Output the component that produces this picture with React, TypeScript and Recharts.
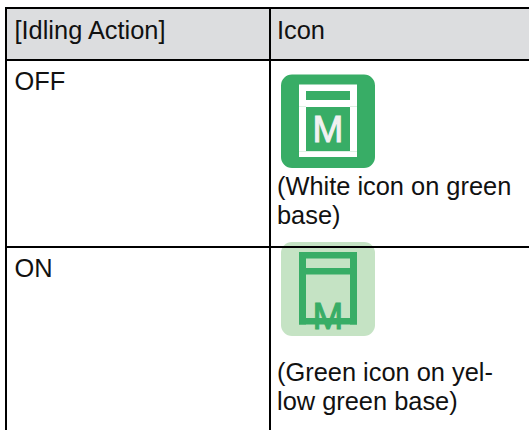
import { ComposedChart, ReferenceArea, ReferenceLine, Scatter, XAxis, YAxis } from "recharts";

const WIDTH = 529;
const HEIGHT = 430;

const HEADERS = ["[Idling Action]", "Icon"];
const STATES = ["OFF", "ON"];
const OFF_CAPTION = ["(White icon on green", "base)"];
const ON_CAPTION = ["(Green icon on yel-", "low green base)"];
const ICON_LETTER = "M";

const GREEN = "#38AD66";
const PALE_GREEN = "#C5E3C4";
const HEADER_GRAY = "#DCDDDF";
const FONT = "'Liberation Sans', Arial, sans-serif";

const textPoints = [
  { x: 14.5, y: 39, text: HEADERS[0] },
  { x: 277, y: 39, text: HEADERS[1] },
  { x: 14.5, y: 90, text: STATES[0] },
  { x: 14.5, y: 277, text: STATES[1] },
  { x: 277, y: 195, text: OFF_CAPTION[0] },
  { x: 277, y: 224, text: OFF_CAPTION[1] },
  { x: 277, y: 381, text: ON_CAPTION[0] },
  { x: 277, y: 410, text: ON_CAPTION[1] },
];

const letterPoints = [
  { x: 328, y: 142, text: ICON_LETTER, fill: "#F1F1F1" },
  { x: 328, y: 329, text: ICON_LETTER, fill: GREEN },
];

function CellText({ cx, cy, payload }: any) {
  return (
    <text x={cx} y={cy} fontFamily={FONT} fontSize={25.4} fill="#111111">
      {payload.text}
    </text>
  );
}

function IconLetter({ cx, cy, payload }: any) {
  return (
    <text
      x={cx}
      y={cy}
      textAnchor="middle"
      fontFamily={FONT}
      fontSize={37}
      fill={payload.fill}
      stroke={payload.fill}
      strokeWidth={1}
    >
      {payload.text}
    </text>
  );
}

function Box({ x1, x2, y1, y2, fill, radius }: any) {
  return (
    <ReferenceArea
      x1={x1}
      x2={x2}
      y1={y1}
      y2={y2}
      fill={fill}
      fillOpacity={1}
      stroke="none"
      radius={radius}
      ifOverflow="visible"
    />
  );
}

export default function App() {
  return (
    <div style={{ position: "absolute", left: 0, top: 0, width: WIDTH, height: HEIGHT, background: "#fff" }}>
      <ComposedChart width={WIDTH} height={HEIGHT} margin={{ top: 0, right: 0, bottom: 0, left: 0 }}>
        <XAxis type="number" dataKey="x" domain={[0, WIDTH]} hide allowDataOverflow />
        <YAxis type="number" dataKey="y" domain={[0, HEIGHT]} reversed hide allowDataOverflow />

        {/* header band */}
        {Box({ x1: 6, x2: WIDTH, y1: 8, y2: 60, fill: HEADER_GRAY })}

        {/* OFF icon */}
        {Box({ x1: 281, x2: 375, y1: 74.5, y2: 168, fill: GREEN, radius: 11 })}
        {Box({ x1: 299, x2: 357, y1: 84.5, y2: 157, fill: "#FFFFFF" })}
        {Box({ x1: 306, x2: 350, y1: 91, y2: 100, fill: GREEN })}
        {Box({ x1: 306, x2: 350, y1: 107, y2: 151, fill: GREEN })}
        {Box({ x1: 299, x2: 306, y1: 106, y2: 107, fill: "#DDF0E3" })}
        {Box({ x1: 350, x2: 357, y1: 106, y2: 107, fill: "#DDF0E3" })}
        {Box({ x1: 299, x2: 357, y1: 151, y2: 152, fill: "#DDF0E3" })}

        {/* ON icon */}
        {Box({ x1: 281, x2: 375, y1: 242, y2: 336, fill: PALE_GREEN, radius: 11 })}
        {Box({ x1: 299, x2: 357, y1: 252, y2: 258.5, fill: GREEN })}
        {Box({ x1: 299, x2: 357, y1: 268, y2: 274.5, fill: GREEN })}
        {Box({ x1: 299, x2: 306, y1: 252, y2: 324.5, fill: GREEN })}
        {Box({ x1: 350, x2: 357, y1: 252, y2: 324.5, fill: GREEN })}
        {Box({ x1: 299, x2: 357, y1: 318, y2: 324.5, fill: GREEN })}

        {/* table rules */}
        <ReferenceLine segment={[{ x: 5, y: 8 }, { x: WIDTH, y: 8 }]} stroke="#000" strokeWidth={2} ifOverflow="visible" />
        <ReferenceLine segment={[{ x: 5, y: 60 }, { x: WIDTH, y: 60 }]} stroke="#000" strokeWidth={2} ifOverflow="visible" />
        <ReferenceLine segment={[{ x: 5, y: 247 }, { x: WIDTH, y: 247 }]} stroke="#000" strokeWidth={2} ifOverflow="visible" />
        <ReferenceLine segment={[{ x: 6, y: 7 }, { x: 6, y: HEIGHT }]} stroke="#000" strokeWidth={2} ifOverflow="visible" />
        <ReferenceLine segment={[{ x: 270, y: 7 }, { x: 270, y: HEIGHT }]} stroke="#000" strokeWidth={2} ifOverflow="visible" />

        <Scatter data={textPoints} shape={CellText} isAnimationActive={false} />
        <Scatter data={letterPoints} shape={IconLetter} isAnimationActive={false} />
      </ComposedChart>
    </div>
  );
}
